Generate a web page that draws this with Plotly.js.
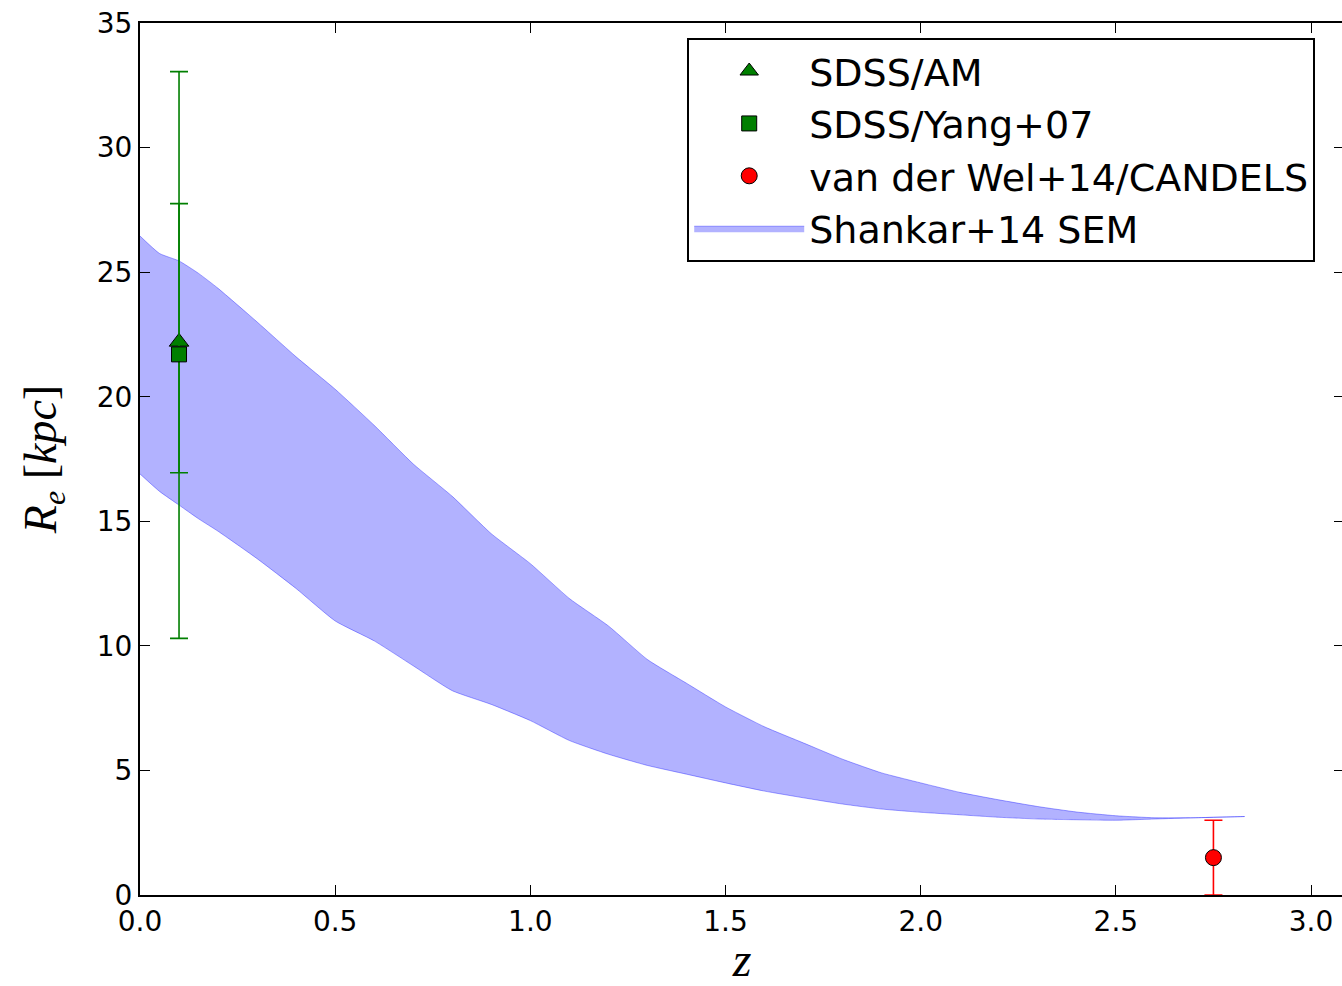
<!DOCTYPE html>
<html>
<head>
<meta charset="utf-8">
<script src="https://cdn.plot.ly/plotly-3.0.1.min.js"></script>
<style>
html,body{margin:0;padding:0;overflow:hidden;background:#fff;}
#chart{width:1346px;height:986px;}
</style>
</head>
<body>
<div id="chart"></div>
<script>
// Shankar+14 SEM band
const bandZ     = [0, 0.05, 0.1, 0.15, 0.2, 0.3, 0.4, 0.5, 0.6, 0.7, 0.8, 0.9, 1.0, 1.1, 1.2, 1.3, 1.4, 1.5, 1.6, 1.7, 1.8, 1.9, 2.0, 2.1, 2.2, 2.3, 2.4, 2.5, 2.6, 2.7, 2.83];
const bandUpper = [26.45, 25.75, 25.45, 24.95, 24.35, 23.0, 21.6, 20.3, 18.85, 17.3, 16.0, 14.5, 13.3, 11.9, 10.8, 9.45, 8.5, 7.55, 6.75, 6.1, 5.45, 4.9, 4.5, 4.12, 3.82, 3.55, 3.33, 3.18, 3.1, 3.1, 3.15];
const bandLower = [16.9, 16.2, 15.65, 15.1, 14.6, 13.5, 12.3, 11.0, 10.2, 9.2, 8.2, 7.65, 7.0, 6.2, 5.65, 5.2, 4.85, 4.5, 4.17, 3.9, 3.65, 3.45, 3.32, 3.22, 3.12, 3.05, 3.02, 3.0, 3.05, 3.1, 3.15];

// SDSS/AM
const amZ = [0.1];
const amR = [22.2];
const amErrPlus = [10.85];
const amErrMinus = [11.9];

// SDSS/Yang+07
const yangZ = [0.1];
const yangR = [21.7];
const yangErrPlus = [6.05];
const yangErrMinus = [4.75];

// van der Wel+14/CANDELS
const vdwZ = [2.75];
const vdwR = [1.5];
const vdwErrPlus = [1.5];
const vdwErrMinus = [1.5];

const xTickVals = [0, 0.5, 1.0, 1.5, 2.0, 2.5, 3.0];
const xTickText = ["0.0", "0.5", "1.0", "1.5", "2.0", "2.5", "3.0"];
const yTickVals = [0, 5, 10, 15, 20, 25, 30, 35];
const yTickText = ["0", "5", "10", "15", "20", "25", "30", "35"];

const green = '#007f00';
const red = '#ff0000';

// closed polygon of the band, built from the arrays above
const polyX = bandZ.concat(bandZ.slice().reverse());
const polyY = bandUpper.concat(bandLower.slice().reverse());

const traces = [
  {
    x: polyX, y: polyY, type: 'scatter', mode: 'lines',
    fill: 'toself', fillcolor: 'rgba(0,0,255,0.3)',
    line: {color: 'rgba(0,0,255,0.35)', width: 1, shape: 'spline', smoothing: 0.5},
    name: 'Shankar+14 SEM', legendrank: 4, hoverinfo: 'skip'
  },
  {
    x: amZ, y: amR, type: 'scatter', mode: 'markers',
    name: 'SDSS/AM', legendrank: 1,
    marker: {symbol: 'triangle-up', size: 17, color: green, line: {color: '#000', width: 1}},
    error_y: {type: 'data', symmetric: false, array: amErrPlus, arrayminus: amErrMinus,
              color: green, thickness: 1.6, width: 9}
  },
  {
    x: yangZ, y: yangR, type: 'scatter', mode: 'markers',
    name: 'SDSS/Yang+07', legendrank: 2,
    marker: {symbol: 'square', size: 15, color: green, line: {color: '#000', width: 1}},
    error_y: {type: 'data', symmetric: false, array: yangErrPlus, arrayminus: yangErrMinus,
              color: green, thickness: 1.6, width: 9}
  },
  {
    x: vdwZ, y: vdwR, type: 'scatter', mode: 'markers',
    name: 'van der Wel+14/CANDELS', legendrank: 3,
    marker: {symbol: 'circle', size: 16, color: red, line: {color: '#000', width: 1}},
    error_y: {type: 'data', symmetric: false, array: vdwErrPlus, arrayminus: vdwErrMinus,
              color: red, thickness: 1.6, width: 9}
  }
];

const layout = {
  width: 1346, height: 986,
  margin: {l: 140, r: 2, t: 23, b: 91},
  paper_bgcolor: '#fff', plot_bgcolor: '#fff',
  font: {family: 'DejaVu Sans, sans-serif', color: '#000', size: 28},
  showlegend: true,
  legend: {
    x: 0.4545, y: 0.983, xanchor: 'left', yanchor: 'top',
    traceorder: 'normal',
    bgcolor: '#fff', bordercolor: '#000', borderwidth: 2,
    font: {family: 'DejaVu Sans, sans-serif', size: 38, color: '#000'},
    itemwidth: 110, tracegroupgap: 0
  },
  xaxis: {
    range: [0, 3.0845], showgrid: false, zeroline: false,
    showline: true, linecolor: '#000', linewidth: 2, mirror: 'ticks',
    ticks: 'inside', ticklen: 10, tickwidth: 1, tickcolor: '#000',
    tickvals: xTickVals, ticktext: xTickText,
    tickfont: {family: 'DejaVu Sans, sans-serif', size: 28},
    title: {text: '<i>z</i>', font: {family: 'Liberation Serif, serif', size: 48}, standoff: 15}
  },
  yaxis: {
    range: [0, 35], showgrid: false, zeroline: false,
    showline: true, linecolor: '#000', linewidth: 2, mirror: 'ticks',
    ticks: 'inside', ticklen: 10, tickwidth: 1, tickcolor: '#000',
    tickvals: yTickVals, ticktext: yTickText,
    tickfont: {family: 'DejaVu Sans, sans-serif', size: 28},
    title: {text: '<i>R</i><sub><i>e</i></sub> [<i>kpc</i>]', font: {family: 'Liberation Serif, serif', size: 46}, standoff: 26}
  }
};

Plotly.newPlot('chart', traces, layout, {displayModeBar: false, staticPlot: true});
</script>
</body>
</html>
